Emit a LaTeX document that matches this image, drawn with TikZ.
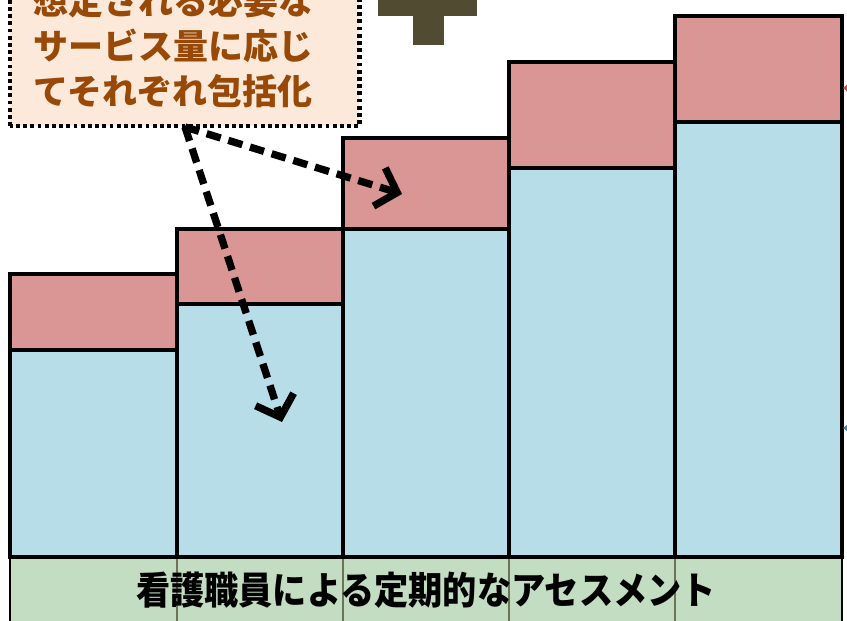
\documentclass[tikz,border=0pt]{standalone}
\usepackage{fontspec}
\newfontfamily\jp{Noto Sans CJK JP}
\usetikzlibrary{arrows.meta}
\definecolor{redfill}{HTML}{D99694}
\definecolor{bluefill}{HTML}{B7DDE8}
\definecolor{greenfill}{HTML}{C2DDC2}
\definecolor{peach}{HTML}{FDE9D9}
\definecolor{brownt}{HTML}{984807}
\definecolor{olive}{HTML}{514B31}
\definecolor{oliveline}{HTML}{6E7256}
\definecolor{tipred}{HTML}{C0504D}
\definecolor{tipblue}{HTML}{4F81BD}
\tikzset{
  bar/.style={draw=black, line width=2.4pt},
  calloutbox/.style={fill=peach, inner sep=0pt, anchor=south west,
    minimum width=261.75pt, minimum height=124.5pt},
  dotborder/.style={draw=black, line width=3.6pt, dash pattern=on 2.8pt off 2.6pt},
  callouttext/.style={font=\jp\bfseries\fontsize{26.25}{30}\selectfont, text=brownt, anchor=base west, inner sep=0pt},
  dasharrow/.style={line width=5.5pt, dash pattern=on 11pt off 6pt, -{Straight Barb[length=14pt,width=30pt,line width=5.5pt]}},
}
\begin{document}
\begin{tikzpicture}[x=0.75pt,y=-0.75pt]
\useasboundingbox (0,0) rectangle (847,621);
% columns
\foreach \xa/\xb/\t/\s in {10/177/274/350, 177/343/229/304, 343/509/138/229, 509/675/62/168, 675/842/16/122}{
  \draw[bar, fill=redfill] (\xa,\t) rectangle (\xb,\s);
  \draw[bar, fill=bluefill] (\xa,\s) rectangle (\xb,557);
}
% green band
\fill[greenfill] (10,557) rectangle (842,626);
\foreach \xx in {177,343,509,675}{ \draw[oliveline, line width=1.2pt] (\xx,557) -- (\xx,626); }
\draw[black, line width=1.5pt] (10,557) -- (10,626);
\draw[black, line width=1.5pt] (842,557) -- (842,626);
\draw[black, line width=2.4pt] (10,557) -- (842,557);
\node[font=\jp\bfseries\fontsize{28.5}{32}\selectfont, xscale=0.9, anchor=base, inner sep=0pt] (assess) at (426,604) {看護職員による定期的なアセスメント};
% plus sign (cut off)
\fill[olive] (378,-5) rectangle (477,16);
\fill[olive] (413,-5) rectangle (444,45);
% tiny arrow tips at right edge
\fill[tipred] (843,88) -- (848,84) -- (848,92) -- cycle;
\fill[tipblue] (843,428) -- (848,424) -- (848,432) -- cycle;
% callout
\node[calloutbox] (callout) at (10,126) {};
\draw[dotborder] (callout.south west) rectangle (callout.north east);
\node[callouttext] (l1) at (33,15) {想定される必要な};
\node[callouttext] (l2) at (33,60) {サービス量に応じ};
\node[callouttext] (l3) at (33,104) {てそれぞれ包括化};
% arrows
\coordinate (src) at (185,127);
\coordinate (endA) at (402,194);
\coordinate (endB) at (282,422);
\draw[dasharrow] (src) -- (endA);
\draw[dasharrow] (src) -- (endB);
\end{tikzpicture}
\end{document}
